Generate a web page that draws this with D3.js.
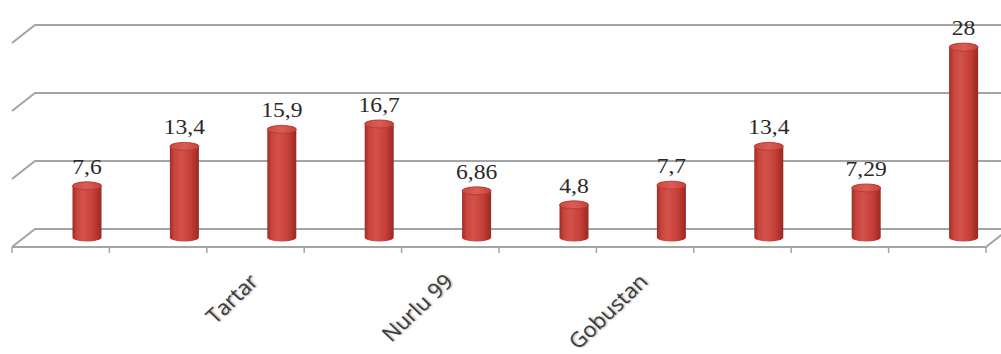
<!DOCTYPE html>
<html>
<head>
<meta charset="utf-8">
<script src="https://cdn.jsdelivr.net/npm/d3@7"></script>
<style>
  html, body { margin: 0; padding: 0; background: #fff; }
  svg { display: block; }
</style>
</head>
<body>
<svg id="chart" width="1001" height="354"></svg>
<script>
// Regional values; only some district names are printed on the axis.
const categories = ["", "", "Tartar", "", "Nurlu 99", "", "Gobustan", "", "", ""];
const values = [7.6, 13.4, 15.9, 16.7, 6.86, 4.8, 7.7, 13.4, 7.29, 28];
const gridValues = [0, 10, 20, 30];

const W = 1001, H = 354;
const svg = d3.select("#chart");

// Oblique "3-D" layout: front floor edge, bar plane and back wall are shifted copies.
const front = { dx: 0, dy: 0 };
const barPlane = { dx: 26.3, dy: -9.5 };
const back = { dx: 23, dy: -18 };

const x = d3.scaleBand().domain(d3.range(values.length)).range([12, 986]).paddingInner(0).paddingOuter(0);
const y = d3.scaleLinear().domain([0, 30]).range([247, 43]);

const fmt = d3.formatLocale({ decimal: ",", thousands: " ", grouping: [3], currency: ["", ""] }).format("~g");

const gridColor = "#a4a4a4";
const xLeft = x.range()[0], xRight = x.range()[1];

// Back-wall gridlines with their side-wall diagonals
const grid = svg.append("g").attr("fill", "none").attr("stroke", gridColor).attr("stroke-width", 2);
gridValues.forEach(v => {
  const yf = y(v) + front.dy, yb = y(v) + back.dy;
  grid.append("path").attr("d", d3.line()([[xLeft, yf], [xLeft + back.dx, yb], [W + 5, yb]]));
});
// Floor front edge and right-hand depth edge
grid.append("path").attr("d", d3.line()([[xLeft, y(0)], [xRight, y(0)], [xRight + back.dx, y(0) + back.dy]]));

// Tick marks at category boundaries along the front floor edge
const tickXs = d3.range(values.length + 1).map(i => i < values.length ? x(i) : xRight);
svg.append("g").selectAll("line").data(tickXs).join("line")
  .attr("x1", d => d).attr("x2", d => d)
  .attr("y1", y(0)).attr("y2", y(0) + 6)
  .attr("stroke", gridColor).attr("stroke-width", 1.5);

// Cylinder shading
const defs = svg.append("defs");
const grad = defs.append("linearGradient").attr("id", "cyl").attr("x1", "0%").attr("x2", "100%");
[[0, "#a02b25"], [0.15, "#c8443d"], [0.38, "#d3524a"], [0.72, "#c53f38"], [1, "#992822"]]
  .forEach(([o, c]) => grad.append("stop").attr("offset", o).attr("stop-color", c));
const topGrad = defs.append("linearGradient").attr("id", "cylTop").attr("x1", "0%").attr("x2", "100%");
[[0, "#c94a43"], [0.5, "#da5d55"], [1, "#c4433c"]]
  .forEach(([o, c]) => topGrad.append("stop").attr("offset", o).attr("stop-color", c));

const rx = 14.5, ry = 4;
const bars = svg.append("g").selectAll("g").data(values).join("g");
bars.each(function (v, i) {
  const g = d3.select(this);
  const cx = x(i) + x.bandwidth() / 2 + barPlane.dx;
  const yBase = y(0) + barPlane.dy;
  const yTop = y(v) + barPlane.dy;
  const x0 = cx - rx, x1 = cx + rx;
  g.append("path")
    .attr("d", `M${x0},${yTop} L${x0},${yBase} A${rx},${ry} 0 0 0 ${x1},${yBase} L${x1},${yTop} A${rx},${ry} 0 0 0 ${x0},${yTop} Z`)
    .attr("fill", "url(#cyl)");
  g.append("ellipse")
    .attr("cx", cx).attr("cy", yTop).attr("rx", rx).attr("ry", ry)
    .attr("fill", "url(#cylTop)").attr("stroke", "#b3362f").attr("stroke-width", 0.8);
  // value label above the cylinder
  g.append("text")
    .attr("transform", `translate(${cx},${yTop - ry - 8}) scale(1.18,1)`)
    .attr("text-anchor", "middle")
    .attr("font-family", "'Liberation Serif', 'Times New Roman', serif")
    .attr("font-size", 20)
    .attr("fill", "#2a2a2a")
    .text(fmt(v));
});

// Rotated category labels, end-anchored under each category centre
svg.append("g").selectAll("text").data(categories.map((c, i) => ({ c, i })).filter(d => d.c))
  .join("text")
  .attr("transform", d => `translate(${x(d.i) + x.bandwidth() / 2 + 4},${y(0) + 36}) scale(1.05,1) rotate(-45)`)
  .attr("text-anchor", "end")
  .attr("font-family", "'Open Sans', 'DejaVu Sans', sans-serif")
  .attr("font-size", 21)
  .attr("fill", "#3a3a3a")
  .style("text-shadow", "1px 1px 2px rgba(0,0,0,0.35)")
  .text(d => d.c);
</script>
</body>
</html>
